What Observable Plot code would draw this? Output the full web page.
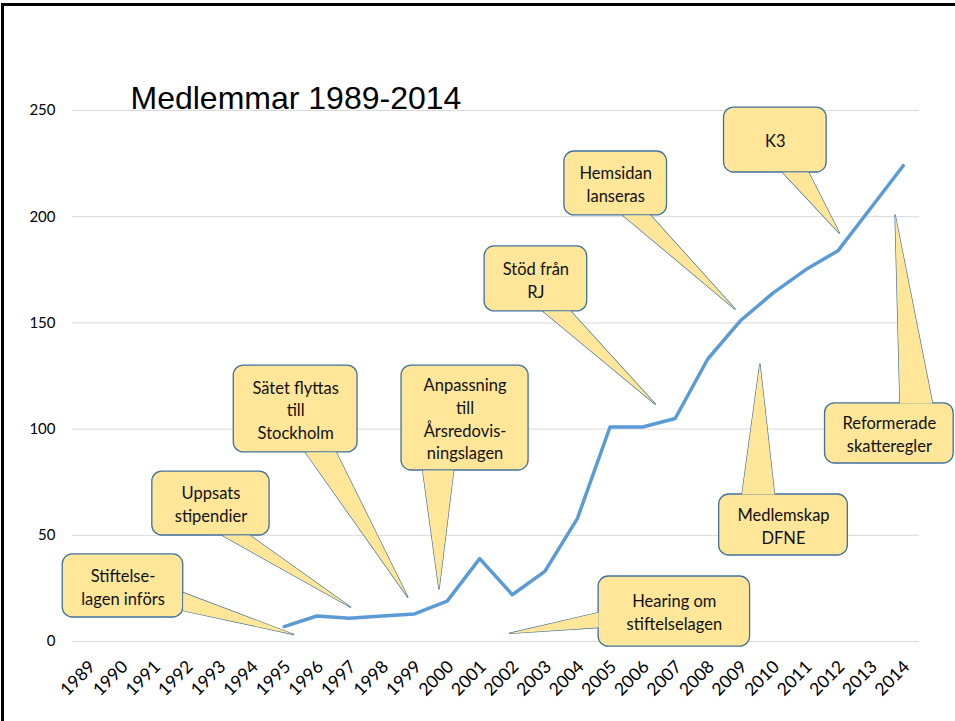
<!DOCTYPE html>
<html><head><meta charset="utf-8">
<script src="https://cdn.jsdelivr.net/npm/d3@7"></script>
<script src="https://cdn.jsdelivr.net/npm/@observablehq/plot@0.6"></script>
<style>
html,body{margin:0;padding:0;background:#fff;}
#wrap{position:relative;width:955px;height:721px;overflow:hidden;background:#fff;}
#frame{position:absolute;left:1px;top:3px;width:980px;height:740px;border-top:3px solid #000;border-left:3px solid #000;pointer-events:none;}
</style></head><body><div id="wrap"><div id="frame"></div></div>
<script>
const title = "Medlemmar 1989-2014";
const tickYears = [1989,1990,1991,1992,1993,1994,1995,1996,1997,1998,1999,2000,2001,2002,2003,2004,2005,2006,2007,2008,2009,2010,2011,2012,2013,2014];
const yTicks = [0,50,100,150,200,250];
const years = [1995,1996,1997,1998,1999,2000,2001,2002,2003,2004,2005,2006,2007,2008,2009,2010,2011,2012,2013,2014];
const members = [7,12,11,12,13,19,39,22,33,58,101,101,105,133,151,164,175,184,204,224];

const calloutLabels = [
  "Stiftelse-\nlagen införs",
  "Uppsats\nstipendier",
  "Sätet flyttas\ntill\nStockholm",
  "Anpassning\ntill\nÅrsredovis-\nningslagen",
  "Stöd från\nRJ",
  "Hemsidan\nlanseras",
  "K3",
  "Reformerade\nskatteregler",
  "Medlemskap\nDFNE",
  "Hearing om\nstiftelselagen"
];
// [x1, x2, yBottom, yTop] in data units (year, members)
const calloutBoxes = [
  [1988.2,1991.9,11.3,41],
  [1990.95,1994.55,49.9,80],
  [1993.45,1997.25,89,129.9],
  [1998.6,2002.5,80.5,129.9],
  [2001.15,2004.3,155.4,186],
  [2003.6,2006.75,200.6,230.7],
  [2008.5,2011.65,220.8,251.4],
  [2011.6,2015.55,83.8,112.1],
  [2008.35,2012.3,40.5,69.2],
  [2004.65,2009.3,-2.4,30.6]
];
const calloutBases = [
  [[1991.9,23],[1991.9,14.5]],
  [[1993.1,49.9],[1993.95,49.9]],
  [[1995.65,89],[1996.6,89]],
  [[1999.25,80.5],[2000.2,80.5]],
  [[2002.95,155.4],[2003.8,155.4]],
  [[2005.4,200.6],[2006.25,200.6]],
  [[2010.3,220.8],[2011.1,220.8]],
  [[2013.9,112.1],[2014.9,112.1]],
  [[2009.05,69.2],[2010.05,69.2]],
  [[2004.65,13.6],[2004.65,6.6]]
];
const calloutTips = [
  [1995.3,3.3],[1997.05,16],[1998.8,20.7],[1999.75,24.5],[2006.4,111.6],
  [2008.85,156.3],[2012.05,192.1],[2013.75,201],[2009.6,130.9],[2001.9,3.8]
];

const series = years.map((y, i) => ({year: y, value: members[i]}));
const boxes = calloutLabels.map((label, i) => ({
  label, x1: calloutBoxes[i][0], x2: calloutBoxes[i][1], y1: calloutBoxes[i][2], y2: calloutBoxes[i][3]
}));
const pointers = calloutLabels.flatMap((label, i) => [
  {id: i, x: calloutBases[i][0][0], y: calloutBases[i][0][1]},
  {id: i, x: calloutTips[i][0], y: calloutTips[i][1]},
  {id: i, x: calloutBases[i][1][0], y: calloutBases[i][1][1]}
]);

const FILL = "#FFE699", EDGE = "#41719C";

const chart = Plot.plot({
  width: 955, height: 721,
  marginLeft: 72, marginRight: 36, marginTop: 110, marginBottom: 80,
  style: {fontFamily: "Lato, 'Open Sans', sans-serif", fontSize: "15px", background: "transparent", overflow: "visible", color: "#000"},
  x: {type: "linear", domain: [1988.5, 2014.5], ticks: tickYears, tickFormat: d => String(d), tickRotate: -45, tickSize: 0, tickPadding: 22, label: null},
  y: {domain: [0, 250], ticks: yTicks, tickSize: 0, tickPadding: 17, label: null},
  marks: [
    Plot.ruleY(yTicks, {stroke: "#d9d9d9", strokeWidth: 1}),
    Plot.line(series, {x: "year", y: "value", stroke: "#5B9BD5", strokeWidth: 3.5, strokeLinejoin: "round", strokeLinecap: "round"}),
    Plot.line(pointers, {x: "x", y: "y", z: "id", fill: FILL, stroke: EDGE, strokeWidth: 1.3, strokeLinejoin: "miter"}),
    Plot.rect(boxes, {x1: "x1", x2: "x2", y1: "y1", y2: "y2", rx: 10, ry: 10, fill: FILL, stroke: EDGE, strokeWidth: 1.3}),
    Plot.line(pointers, {x: "x", y: "y", z: "id", fill: FILL, stroke: "none"}),
    Plot.text(boxes, {x: d => (d.x1 + d.x2) / 2, y: d => (d.y1 + d.y2) / 2, text: "label", lineAnchor: "middle", lineHeight: 1.38, fontSize: 16.5, fill: "#111", fontFamily: "Lato, 'Open Sans', sans-serif"}),
    Plot.text([title], {frameAnchor: "top-left", text: d => d, dx: 58, dy: -2, lineAnchor: "bottom", textAnchor: "start", fontSize: 32, fill: "#000", fontFamily: "'Liberation Sans', Arial, sans-serif"})
  ]
});
d3.select(chart).selectAll('[aria-label^="x-axis"] text').each(function() {
  const t = d3.select(this);
  t.attr("font-size", 17.5).attr("dx", 5).attr("transform", "translate(0,4) " + (t.attr("transform") || ""));
});
d3.select(chart).selectAll('[aria-label^="y-axis"] text').attr("font-size", 15);
chart.style.position = "absolute";
chart.style.left = "0px";
chart.style.top = "0px";
document.getElementById("wrap").insertBefore(chart, document.getElementById("frame"));
</script>
</body></html>
